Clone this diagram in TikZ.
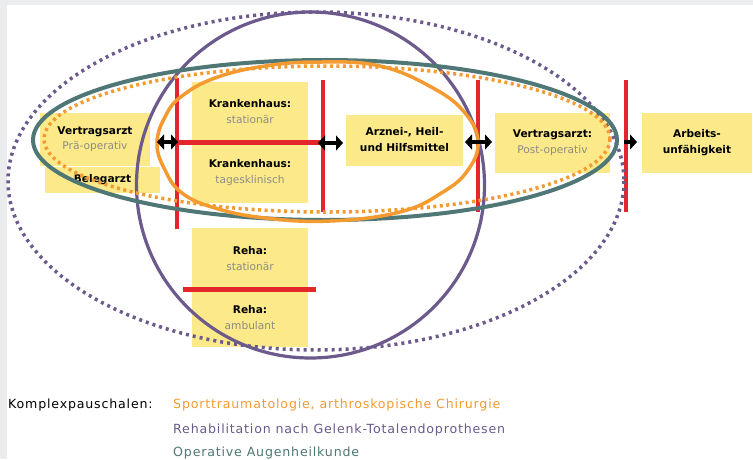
\documentclass[tikz,border=0pt]{standalone}
\usepackage{fontspec}
\setmainfont{DejaVu Sans}
\newfontfamily\legendfont[LetterSpace=6.5]{DejaVu Sans}
\usetikzlibrary{arrows.meta}
\definecolor{bggray}{HTML}{EBECEE}
\definecolor{boxyellow}{HTML}{FBE98A}
\definecolor{redc}{HTML}{E2262B}
\definecolor{orangec}{HTML}{F39B30}
\definecolor{purplec}{HTML}{6C5A8C}
\definecolor{tealc}{HTML}{4E7775}
\definecolor{subgray}{HTML}{8C8C86}
\begin{document}
\begin{tikzpicture}[x=1pt,y=-1pt,
  box/.style={fill=boxyellow, inner sep=0pt, align=center, font=\fontsize{10.6}{16}\selectfont},
  redbar/.style={draw=redc, line width=4.5pt},
  dblarrow/.style={line width=4pt, {Triangle[length=7pt,width=15pt]}-{Triangle[length=7pt,width=15pt]}},
  sglarrow/.style={line width=4pt, -{Triangle[length=7pt,width=15pt]}},
  legend/.style={anchor=west, inner sep=0pt, font=\legendfont\fontsize{12.6}{14}\selectfont}
]
\useasboundingbox (0,0) rectangle (753,459);
\fill[bggray] (0,0) rectangle (753,459);
\fill[white] (7,5) rectangle (753,459);

% boxes
\node[box, minimum width=110pt, minimum height=53pt] (vpre) at (95,139.5)
  {\textbf{Vertragsarzt}\\[-1pt]{\color{subgray}Prä-operativ}};
\node[box, minimum width=115pt, minimum height=26pt] (beleg) at (102.5,180) {\textbf{Belegarzt}};
\node[box, minimum width=116pt, minimum height=60pt] (khs) at (250,112)
  {\textbf{Krankenhaus:}\\{\color{subgray}stationär}};
\node[box, minimum width=116pt, minimum height=59pt] (kht) at (250,173)
  {\textbf{Krankenhaus:}\\{\color{subgray}tagesklinisch}};
\node[box, minimum width=117pt, minimum height=51pt] (arz) at (404.5,140)
  {\textbf{Arznei-, Heil-}\\\textbf{und Hilfsmittel}};
\node[box, minimum width=115pt, minimum height=60pt] (vpost) at (552.5,143)
  {\textbf{Vertragsarzt:}\\{\color{subgray}Post-operativ}};
\node[box, minimum width=110pt, minimum height=60pt] (arb) at (697,143)
  {\textbf{Arbeits-}\\\textbf{unfähigkeit}};
\node[box, minimum width=116pt, minimum height=61pt] (rehas) at (250,258.5)
  {\textbf{Reha:}\\{\color{subgray}stationär}};
\node[box, minimum width=116pt, minimum height=58pt] (rehaa) at (250,318)
  {\textbf{Reha:}\\{\color{subgray}ambulant}};

% red bars
\coordinate (r1t) at (177,78);  \coordinate (r1b) at (177,229);
\coordinate (r2t) at (323,80);  \coordinate (r2b) at (323,212);
\coordinate (r3t) at (478,80);  \coordinate (r3b) at (478,212);
\coordinate (r4t) at (626,80);  \coordinate (r4b) at (626,212);
\coordinate (h1l) at (177,142); \coordinate (h1r) at (323,142);
\coordinate (h2l) at (183,289); \coordinate (h2r) at (316,289);
\draw[redbar] (r1t) -- (r1b);
\draw[redbar] (r2t) -- (r2b);
\draw[redbar] (r3t) -- (r3b);
\draw[redbar] (r4t) -- (r4b);
\draw[redbar, line width=5pt] (h1l) -- (h1r);
\draw[redbar, line width=5pt] (h2l) -- (h2r);

% ellipses
\draw[purplec, line width=3.5pt, dash pattern=on 3pt off 4pt] (316,181) ellipse [x radius=308, y radius=169];
\draw[purplec, line width=3.2pt] (310.5,185) ellipse [x radius=174, y radius=173];
\draw[tealc, line width=4pt] (325,140) ellipse [x radius=292, y radius=80];
\draw[orangec, line width=3.5pt, dash pattern=on 3pt off 3.5pt] (327,139) ellipse [x radius=283, y radius=73];
\draw[orangec, line width=3.5pt] plot[smooth cycle, tension=0.7] coordinates {(157,143) (166,115) (182,96) (215,78) (265,66) (320,62) (380,66) (433,88) (465,113) (478,142) (468,170) (443,192) (400,212) (330,221) (265,218) (215,208) (182,193) (165,170)};

% arrows
\coordinate (a1l) at (157,142); \coordinate (a1r) at (178,142);
\coordinate (a2l) at (318,143); \coordinate (a2r) at (343,143);
\coordinate (a3l) at (465,142); \coordinate (a3r) at (492,142);
\coordinate (a4l) at (624,142); \coordinate (a4r) at (637,142);
\draw[dblarrow] (a1l) -- (a1r);
\draw[dblarrow] (a2l) -- (a2r);
\draw[dblarrow] (a3l) -- (a3r);
\draw[sglarrow] (a4l) -- (a4r);

% legend
\node[legend] (lk) at (8,405) {Komplexpauschalen:};
\node[legend, text=orangec] (l1) at (173,405) {Sporttraumatologie, arthroskopische Chirurgie};
\node[legend, text=purplec] (l2) at (173,430) {Rehabilitation nach Gelenk-Totalendoprothesen};
\node[legend, text=tealc] (l3) at (173,453) {Operative Augenheilkunde};
\end{tikzpicture}
\end{document}
